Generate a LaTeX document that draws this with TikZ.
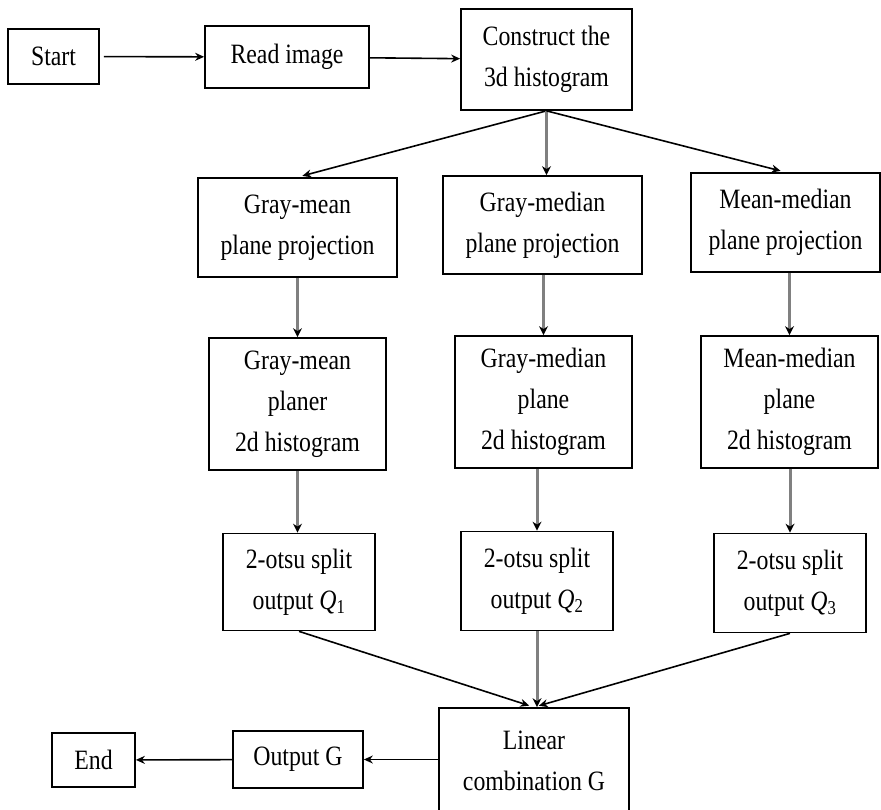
\documentclass[tikz,border=0pt]{standalone}
\usepackage{fontspec}
\setmainfont[FakeStretch=0.85]{Liberation Serif}
\usetikzlibrary{arrows.meta}

\tikzset{
  box/.style={draw=black, line width=1.7pt, inner sep=0pt, align=center,
    font=\fontsize{28}{41}\selectfont},
  flow/.style={line width=1.6pt, -{Stealth[length=9pt, width=8pt]}},
  diag/.style={flow, shorten >=5pt},
  trunk/.style={line width=3pt, color=black!50, -{Stealth[length=9pt, width=9pt, color=black]}},
}

\begin{document}
\begin{tikzpicture}[x=1pt, y=-1pt]
  \useasboundingbox (0,0) rectangle (881,809);
  \clip (0,0) rectangle (881,809);

  % top row
  \node[box, minimum width=91pt, minimum height=55pt] (start) at (53.5,56.5) {Start};
  \node[box, minimum width=164pt, minimum height=62pt] (read) at (287,57) {Read image};
  \node[box, minimum width=171pt, minimum height=101pt] (cons) at (546.5,59.5) {Construct the\\3d histogram};

  % projections
  \node[box, minimum width=199pt, minimum height=99pt] (gmp) at (297.5,227.5) {Gray-mean\\plane projection};
  \node[box, minimum width=199pt, minimum height=98pt] (gdp) at (542.5,225) {Gray-median\\plane projection};
  \node[box, minimum width=189pt, minimum height=99pt] (mdp) at (785.5,222.5) {Mean-median\\plane projection};

  % 2d histograms
  \node[box, minimum width=177pt, minimum height=132pt] (gmh) at (297.5,404) {Gray-mean\\planer\\2d histogram};
  \node[box, minimum width=177pt, minimum height=132pt] (gdh) at (543.5,402) {Gray-median\\plane\\2d histogram};
  \node[box, minimum width=177pt, minimum height=132pt] (mdh) at (789.5,402) {Mean-median\\plane\\2d histogram};

  % otsu splits
  \node[box, minimum width=152pt, minimum height=97pt] (q1) at (299,582) {2-otsu split\\output \textit{Q}\textsubscript{1}};
  \node[box, minimum width=152pt, minimum height=99pt] (q2) at (537,581) {2-otsu split\\output \textit{Q}\textsubscript{2}};
  \node[box, minimum width=152pt, minimum height=99pt] (q3) at (790,583) {2-otsu split\\output \textit{Q}\textsubscript{3}};

  % bottom row
  \node[box, minimum width=190pt, minimum height=106pt] (lin) at (534,761) {Linear\\combination G};
  \node[box, minimum width=130pt, minimum height=57pt] (outg) at (298,759.5) {Output G};
  \node[box, minimum width=83pt, minimum height=54pt] (endn) at (93.5,760) {End};

  \draw[flow, shorten <=4pt] (start) -- (read);
  \draw[flow] (read) -- (cons);

  \draw[diag] (cons.south) -- (gmp.north);
  \draw[trunk] (cons.south) -- (cons.south |- gdp.north);
  \draw[diag] (cons.south) -- (mdp.north);

  \draw[trunk] (gmh.north |- gmp.south) -- (gmh.north);
  \draw[trunk] (gdh.north |- gdp.south) -- (gdh.north);
  \draw[trunk] (mdh.north |- mdp.south) -- (mdh.north);

  \draw[trunk] (gmh.south) -- (gmh.south |- q1.north);
  \draw[trunk] (q2.north |- gdh.south) -- (q2.north);
  \draw[trunk] (q3.north |- mdh.south) -- (q3.north);

  \draw[diag] (q1.south) -- (lin.north);
  \draw[trunk] (q2.south) -- (q2.south |- lin.north);
  \draw[diag] (q3.south) -- (lin.north);

  \draw[flow] (lin.west |- outg.east) -- (outg.east);
  \draw[flow] (outg) -- (endn);
\end{tikzpicture}
\end{document}
